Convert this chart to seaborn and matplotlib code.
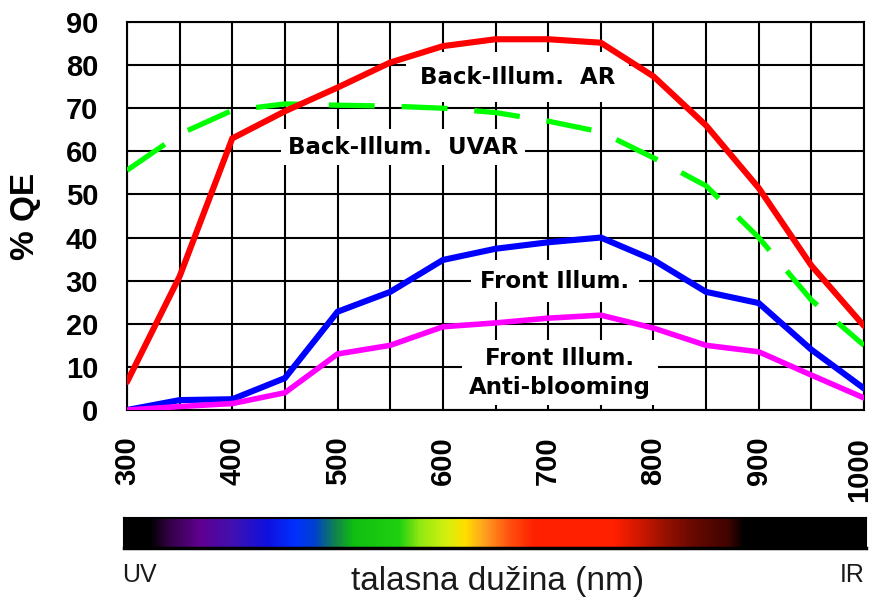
import matplotlib
matplotlib.use("Agg")
import numpy as np
import pandas as pd
import matplotlib.pyplot as plt
from matplotlib.colors import LinearSegmentedColormap
from matplotlib.transforms import ScaledTranslation
import seaborn as sns

# Quantum efficiency curves of CCD sensors, sampled every 50 nm
wavelength = [300, 350, 400, 450, 500, 550, 600, 650, 700, 750, 800, 850, 900, 950, 1000]
back_ar = [6.5, 31, 63, 69.3, 74.8, 80.6, 84.4, 86, 86, 85.2, 77.4, 66, 51.5, 33.5, 19.5]
back_uvar = [55.6, 64, 69.5, 71, 70.7, 70.5, 70, 69, 67, 64.5, 58.5, 52, 40, 25.5, 15]
front = [0, 2.3, 2.5, 7.4, 22.8, 27.4, 34.8, 37.4, 38.9, 40, 34.8, 27.4, 24.8, 14, 5]
front_ab = [0, 0.8, 1.5, 4, 13, 15, 19.3, 20.2, 21.3, 22, 19, 15, 13.5, 8.1, 2.8]

x_ticks = [300, 400, 500, 600, 700, 800, 900, 1000]
y_ticks = [0, 10, 20, 30, 40, 50, 60, 70, 80, 90]

sns.set_style("white")
plt.rcParams["font.family"] = ["DejaVu Sans"]
plt.rcParams["text.color"] = "black"
plt.rcParams["axes.labelcolor"] = "black"
plt.rcParams["xtick.color"] = "black"
plt.rcParams["ytick.color"] = "black"

W, H = 875, 598
fig = plt.figure(figsize=(W / 100, H / 100), dpi=100)
ax = fig.add_axes([127 / W, 1 - 410 / H, 737 / W, 388 / H])

df = pd.DataFrame({
    "wavelength": wavelength * 4,
    "qe": back_uvar + back_ar + front + front_ab,
    "series": (["Back-Illum. UVAR"] * len(wavelength) + ["Back-Illum. AR"] * len(wavelength)
               + ["Front Illum."] * len(wavelength) + ["Front Illum. Anti-blooming"] * len(wavelength)),
})

styles = {
    "Back-Illum. UVAR": dict(color="#00ff00", lw=3.8, dashes=(8.7, 5.1)),
    "Back-Illum. AR": dict(color="#ff0000", lw=4.4, dashes=None),
    "Front Illum.": dict(color="#0000ff", lw=4.4, dashes=None),
    "Front Illum. Anti-blooming": dict(color="#ff00ff", lw=4.0, dashes=None),
}
for name, st in styles.items():
    sub = df[df["series"] == name]
    line_kw = dict(color=st["color"], linewidth=st["lw"], ax=ax, legend=False,
                   solid_joinstyle="miter", zorder=3)
    sns.lineplot(data=sub, x="wavelength", y="qe", **line_kw)
    if st["dashes"] is not None:
        ax.lines[-1].set_dashes(st["dashes"])
        ax.lines[-1].set_dash_capstyle("butt")

ax.set_xlim(300, 1000)
ax.set_ylim(0, 90)
ax.set_xticks(x_ticks)
ax.set_xticks(list(range(350, 1000, 100)), minor=True)
ax.set_yticks(y_ticks)
tick_font = dict(family="Liberation Sans", weight="bold", size=21, color="black")
ax.set_xticklabels([str(v) for v in x_ticks], rotation=90, va="top", ha="center", **tick_font)
ax.set_yticklabels([str(v) for v in y_ticks], **tick_font)
ax.tick_params(axis="both", which="both", direction="out", length=7.2, width=1.5, color="black")
ax.tick_params(axis="x", which="major", pad=12)
ax.tick_params(axis="y", which="major", pad=13.5)
ax.grid(True, which="both", color="black", linewidth=1.5)
ax.set_axisbelow(True)
for sp in ax.spines.values():
    sp.set_color("black")
    sp.set_linewidth(1.5)
ax.set_xlabel("")
ax.set_ylabel("% QE", family="Liberation Sans", weight="bold", size=24, labelpad=18,
              color="black")

# Nudge the last wavelength label inward so it stays inside the canvas
last_label = ax.get_xticklabels()[-1]
last_label.set_transform(last_label.get_transform()
                         + ScaledTranslation(-5 / 100, 0, fig.dpi_scale_trans))

# Curve labels on white boxes
label_font = dict(family="DejaVu Sans", weight="bold", size=16.5, ha="center", va="center",
                  zorder=2, color="black")
ax.text(671, 77.2, "Back-Illum.  AR",
        bbox=dict(boxstyle="square,pad=0.6", fc="white", ec="none"), **label_font)
ax.text(562, 61.0, "Back-Illum.  UVAR",
        bbox=dict(boxstyle="square,pad=0.3", fc="white", ec="none"), **label_font)
ax.text(706.5, 29.9, "Front Illum.",
        bbox=dict(boxstyle="square,pad=0.4", fc="white", ec="none"), **label_font)
ax.text(711, 8.6, "Front Illum.\nAnti-blooming", linespacing=1.3,
        bbox=dict(boxstyle="square,pad=0.3", fc="white", ec="none"), **label_font)

# Visible spectrum strip
spec_stops = [
    (0.000, "#000000"), (0.034, "#000000"), (0.057, "#300040"), (0.101, "#600090"),
    (0.146, "#4010b0"), (0.192, "#1010e0"), (0.229, "#0030ff"), (0.256, "#0040d0"),
    (0.283, "#108050"), (0.310, "#10c010"), (0.371, "#20d010"), (0.398, "#90e810"),
    (0.432, "#d0f010"), (0.459, "#ffe000"), (0.486, "#ffa020"), (0.520, "#ff5010"),
    (0.553, "#ff2000"), (0.661, "#ff2000"), (0.695, "#d01800"), (0.735, "#901000"),
    (0.776, "#600800"), (0.816, "#400400"), (0.837, "#000000"), (1.000, "#000000"),
]
cmap = LinearSegmentedColormap.from_list("spectrum", spec_stops, N=512)
sax = fig.add_axes([124 / W, 1 - 548 / H, 742 / W, 30 / H])
sax.imshow(np.linspace(0, 1, 742)[None, :], cmap=cmap, aspect="auto", extent=(0, 1, 0, 1))
sax.set_xticks([])
sax.set_yticks([])
for sp in sax.spines.values():
    sp.set_color("black")
    sp.set_linewidth(1.5)
sax.spines["bottom"].set_linewidth(2.5)

small_font = dict(family="Liberation Sans", color="#1a1a1a")
fig.text(122 / W, 1 - 582 / H, "UV", ha="left", va="baseline", size=18, **small_font)
fig.text(865 / W, 1 - 582 / H, "IR", ha="right", va="baseline", size=18, **small_font)
fig.text(497.5 / W, 1 - 590 / H, "talasna dužina (nm)", ha="center", va="baseline",
         size=24, **small_font)

fig.savefig("out.png", dpi=100, facecolor="white")
